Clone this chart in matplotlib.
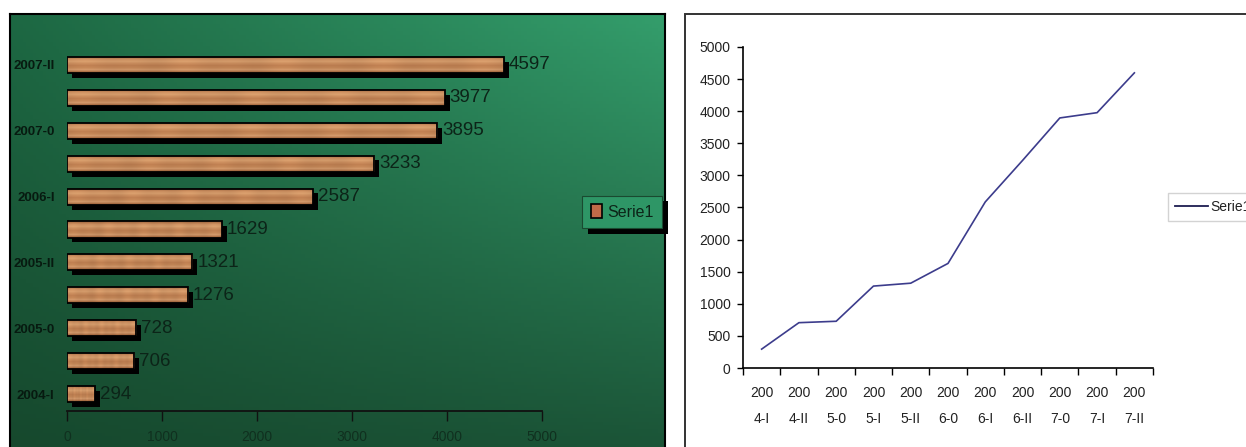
import numpy as np
import matplotlib
matplotlib.use("Agg")
import matplotlib.pyplot as plt
from matplotlib.patches import Rectangle
from matplotlib.lines import Line2D
import matplotlib.patheffects as pe

# -----------------------------------------
# DATA
# -----------------------------------------

periods = ["2004-I", "2004-II", "2005-0", "2005-I", "2005-II", "2006-0",
           "2006-I", "2006-II", "2007-0", "2007-I", "2007-II"]
values = [294, 706, 728, 1276, 1321, 1629, 2587, 3233, 3895, 3977, 4597]
series_name = "Serie1"

bar_ticks = [0, 1000, 2000, 3000, 4000, 5000]
line_ticks = list(range(0, 5001, 500))

ARIAL = "Liberation Sans"

W, H = 1246, 447
fig = plt.figure(figsize=(W / 100, H / 100), dpi=100)
fig.patch.set_facecolor("white")


def fx(px):
    return px / W


def fy(py):
    return 1 - py / H


# -----------------------------------------
# LEFT PANEL: green gradient background
# -----------------------------------------

bg = fig.add_axes([fx(10), -0.01, fx(665) - fx(10), fy(14) + 0.01])
tl = np.array([29, 104, 67]) / 255
tr = np.array([52, 158, 108]) / 255
bl = np.array([22, 72, 45]) / 255
br = np.array([27, 84, 55]) / 255
u = np.linspace(0, 1, 200)[None, :, None]
v = np.linspace(0, 1, 120)[:, None, None]
grad = (1 - v) * ((1 - u) * tl + u * tr) + v * ((1 - u) * bl + u * br)
bg.imshow(np.clip(grad, 0, 1), aspect="auto", extent=[0, 1, 0, 1])
bg.set_xticks([])
bg.set_yticks([])
for side in ["left", "top", "right"]:
    bg.spines[side].set_color("black")
    bg.spines[side].set_linewidth(1.5)
bg.spines["bottom"].set_visible(False)

ax1 = fig.add_axes([fx(67), fy(410.5), fx(542) - fx(67), fy(48.5) - fy(410.5)])
ax1.set_facecolor("none")

pos = np.arange(len(periods))
bar_h = 0.49

# shadowed base bars
base = ax1.barh(pos, values, height=bar_h, color="#c48456", edgecolor="none", zorder=2)
for p in base:
    p.set_path_effects([pe.SimplePatchShadow(offset=(3.5, -3.5), shadow_rgbFace="black", alpha=1),
                        pe.Normal()])

# wood-like texture clipped into each bar
wood = np.array([[172, 112, 70], [208, 146, 98], [218, 160, 110], [204, 142, 94],
                 [192, 128, 82], [198, 136, 88], [212, 154, 108], [166, 104, 62]]) / 255
wood = wood[:, None, :].repeat(60, axis=1)
grain = np.linspace(0, 1, 60)
wood = np.clip(wood * (0.97 + 0.04 * np.sin(grain * 41) * np.cos(grain * 13))[None, :, None], 0, 1)
for p in base:
    x0, y0 = p.get_x(), p.get_y()
    im = ax1.imshow(wood, aspect="auto", extent=[x0, x0 + p.get_width(), y0, y0 + p.get_height()],
                    interpolation="bilinear", zorder=3)
    im.set_clip_path(p)

ax1.barh(pos, values, height=bar_h, color="none", edgecolor="black", linewidth=1.3, zorder=4)

for y, val in zip(pos, values):
    ax1.annotate(str(val), (val, y), xytext=(3.5, 0), textcoords="offset points",
                 ha="left", va="center", fontsize=13.5, family=ARIAL, color="#0c2418", zorder=5)

ax1.set_xlim(0, 5000)
ax1.set_ylim(-0.5, len(periods) - 0.5)
ax1.set_xticks(bar_ticks)
ax1.set_xticklabels([str(t) for t in bar_ticks], family=ARIAL, fontsize=10, color="#10301f")
ax1.set_yticks(pos[::2])
ax1.set_yticklabels(periods[::2], family=ARIAL, fontsize=9.5, fontweight="bold", color="#071a10")
ax1.tick_params(axis="y", length=0, pad=9)
ax1.tick_params(axis="x", direction="out", length=7, width=1, color="#111111", pad=7)
for side in ["left", "top", "right"]:
    ax1.spines[side].set_visible(False)
ax1.spines["bottom"].set_color("#111111")
ax1.spines["bottom"].set_linewidth(1.3)

h1 = Rectangle((0, 0), 1, 1, facecolor="#c06a48", edgecolor="black", linewidth=1.2)
leg1 = ax1.legend([h1], [series_name], loc="center", bbox_to_anchor=(fx(622), fy(212)),
                  bbox_transform=fig.transFigure, fancybox=False, frameon=True,
                  prop={"family": ARIAL, "size": 11.5}, handlelength=0.7, handleheight=0.9,
                  handletextpad=0.3, borderpad=0.55, borderaxespad=0)
fr = leg1.get_frame()
fr.set_facecolor("#2e9666")
fr.set_edgecolor("#1a4a30")
fr.set_linewidth(0.8)
fr.set_alpha(1)
fr.set_path_effects([pe.SimplePatchShadow(offset=(4, -4), shadow_rgbFace="black", alpha=1), pe.Normal()])
for t in leg1.get_texts():
    t.set_color("#0c2418")

# -----------------------------------------
# RIGHT PANEL: line chart
# -----------------------------------------

fig.patches.append(Rectangle((fx(685), -0.1), 1.0, fy(14) + 0.1, transform=fig.transFigure,
                             fill=False, edgecolor="#333333", linewidth=1.4))

ax2 = fig.add_axes([fx(743), fy(368), fx(1153) - fx(743), fy(47) - fy(368)])
ax2.set_facecolor("white")
xs = pos + 0.5
ax2.plot(xs, values, color="#3c3c8c", linewidth=1.2)
ax2.set_xlim(0, len(periods))
ax2.set_ylim(0, 5000)
ax2.set_yticks(line_ticks)
ax2.set_yticklabels([str(t) for t in line_ticks], family=ARIAL, fontsize=10, color="#222222")
ax2.set_xticks(np.arange(len(periods) + 1))
ax2.set_xticklabels([])
ax2.set_xticks(xs, minor=True)
ax2.set_xticklabels([p[:3] + "\n" + p[3:] for p in periods], minor=True,
                    family=ARIAL, fontsize=10, color="#222222", linespacing=2.05)
ax2.tick_params(axis="x", which="minor", length=0, pad=13)
ax2.tick_params(axis="x", which="major", direction="out", length=5, width=1)
ax2.tick_params(axis="y", direction="out", length=4, width=1, pad=5)
for side in ["top", "right"]:
    ax2.spines[side].set_visible(False)
for side in ["left", "bottom"]:
    ax2.spines[side].set_linewidth(1.2)

h2 = Line2D([0], [0], color="#1c1c50", linewidth=1.3)
leg2 = ax2.legend([h2], [series_name], loc="center left", bbox_to_anchor=(fx(1168), fy(207)),
                  bbox_transform=fig.transFigure, fancybox=False, frameon=True,
                  prop={"family": ARIAL, "size": 10}, handlelength=2.4, handletextpad=0.15,
                  borderpad=0.5, borderaxespad=0)
leg2.get_frame().set_edgecolor("#c8c8c8")
leg2.get_frame().set_linewidth(1)
for t in leg2.get_texts():
    t.set_color("#222222")

fig.savefig("out.png", dpi=100)
